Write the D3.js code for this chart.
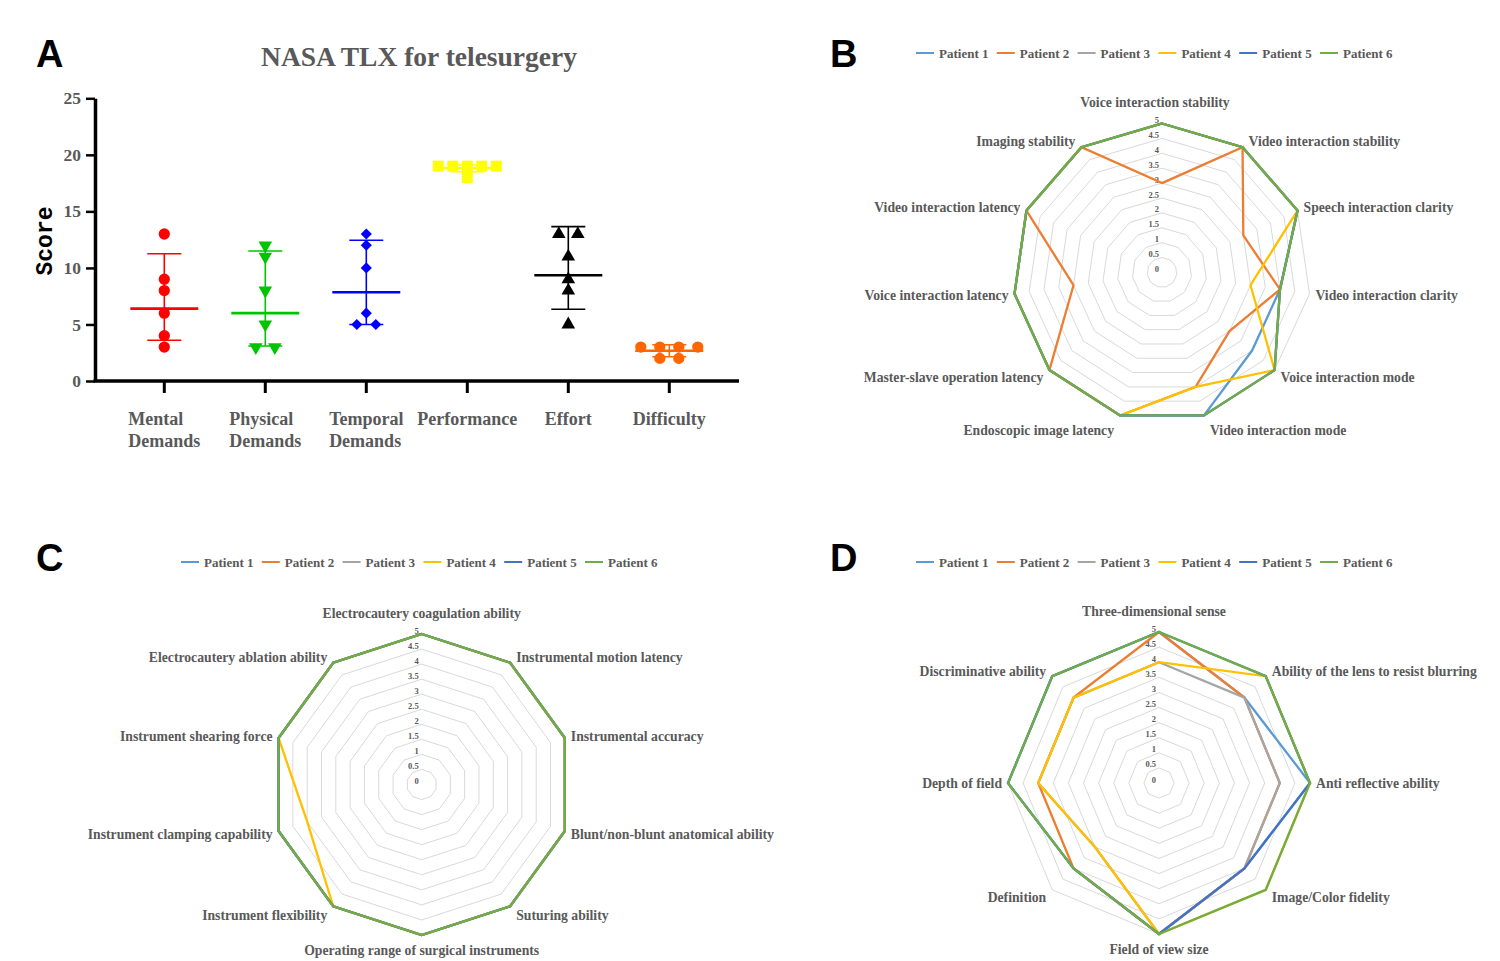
<!DOCTYPE html>
<html>
<head>
<meta charset="utf-8">
<script src="https://cdn.jsdelivr.net/npm/d3@7"></script>
<style>
  body { margin: 0; background: #fff; }
  text { font-family: "Liberation Serif", "Times New Roman", serif; font-weight: bold; }
</style>
</head>
<body>
<div id="chart"></div>
<script>
// ---- panel A data (NASA TLX) ----
const tlxCategories = ["Mental Demands", "Physical Demands", "Temporal Demands", "Performance", "Effort", "Difficulty"];
const tlxTickLabels = [["Mental", "Demands"], ["Physical", "Demands"], ["Temporal", "Demands"], ["Performance"], ["Effort"], ["Difficulty"]];
const tlxScores = [
	[13, 9, 8, 6, 4, 3],
	[12, 11, 8, 5, 3, 3],
	[13, 12, 10, 6, 5, 5],
	[19, 19, 19, 19, 19, 18],
	[13, 13, 11, 9, 8, 5],
	[3, 3, 3, 3, 2, 2]
];
const tlxCenter = [6.4, 6.0, 7.85, 18.83, 9.35, 2.67];
const tlxLow = [3.6, 3.1, 5.0, 18.5, 6.35, 2.15];
const tlxHigh = [11.25, 11.5, 12.45, 19.1, 13.65, 3.2];
const yTicks = [0, 5, 10, 15, 20, 25];

// ---- radar data ----
const patients = ["Patient 1", "Patient 2", "Patient 3", "Patient 4", "Patient 5", "Patient 6"];

const axesB = ["Voice interaction stability", "Video interaction stability", "Speech interaction clarity",
	"Video interaction clarity", "Voice interaction mode", "Video interaction mode", "Endoscopic image latency",
	"Master-slave operation latency", "Voice interaction latency", "Video interaction latency", "Imaging stability"];
const valuesB = [
	[5, 5, 5, 4, 4, 5, 5, 5, 5, 5, 5],
	[3, 5, 3, 4, 3, 4, 5, 5, 3, 5, 5],
	[5, 5, 5, 4, 5, 5, 5, 5, 5, 5, 5],
	[5, 5, 5, 3, 5, 4, 5, 5, 5, 5, 5],
	[5, 5, 5, 4, 5, 5, 5, 5, 5, 5, 5],
	[5, 5, 5, 4, 5, 5, 5, 5, 5, 5, 5]
];

const axesC = ["Electrocautery coagulation ability", "Instrumental motion latency", "Instrumental accuracy",
	"Blunt/non-blunt anatomical ability", "Suturing ability", "Operating range of surgical instruments",
	"Instrument flexibility", "Instrument clamping capability", "Instrument shearing force", "Electrocautery ablation ability"];
const valuesC = [
	[5, 5, 5, 5, 5, 5, 5, 5, 5, 5],
	[5, 5, 5, 5, 5, 5, 5, 5, 5, 5],
	[5, 5, 5, 5, 5, 5, 5, 5, 5, 5],
	[5, 5, 5, 5, 5, 5, 5, 4, 5, 5],
	[5, 5, 5, 5, 5, 5, 5, 5, 5, 5],
	[5, 5, 5, 5, 5, 5, 5, 5, 5, 5]
];

const axesD = ["Three-dimensional sense", "Ability of the lens to resist blurring", "Anti reflective ability",
	"Image/Color fidelity", "Field of view size", "Definition", "Depth of field", "Discriminative ability"];
const valuesD = [
	[5, 4, 5, 4, 5, 4, 5, 5],
	[5, 4, 4, 4, 5, 4, 4, 4],
	[4, 4, 4, 4, 5, 3, 4, 4],
	[4, 5, 5, 5, 5, 3, 4, 4],
	[5, 5, 5, 4, 5, 4, 5, 5],
	[5, 5, 5, 5, 5, 4, 5, 5]
];
const radarTicks = [0, 0.5, 1, 1.5, 2, 2.5, 3, 3.5, 4, 4.5, 5];

const patientColors = ["#5B9BD5", "#ED7D31", "#A5A5A5", "#FFC000", "#4472C4", "#70AD47"];
const tlxColors = ["#FF0000", "#00C400", "#0000FF", "#FFFF00", "#000000", "#FF6600"];
const GREY = "#595959";

const svg = d3.select("#chart").append("svg")
	.attr("width", 1500).attr("height", 961);
svg.append("rect").attr("width", 1500).attr("height", 961).attr("fill", "#fff");

// panel letters
[["A", 36, 67], ["B", 830, 67], ["C", 36, 571], ["D", 830, 571]].forEach(([t, x, y]) => {
	svg.append("text").attr("x", x).attr("y", y)
		.style("font-family", "'Liberation Sans', Arial, sans-serif")
		.style("font-size", "38px").attr("fill", "#000").text(t);
});

// ================= panel A =================
const x = d3.scalePoint().domain(tlxCategories).range([164.3, 669.3]);
const y = d3.scaleLinear().domain([0, 25]).range([381, 98.3]);
const gA = svg.append("g");

gA.append("text").attr("x", 419).attr("y", 66).attr("text-anchor", "middle")
	.style("font-size", "27.5px").attr("fill", GREY).text("NASA TLX for telesurgery");

const yAxis = gA.append("g").attr("transform", "translate(95,0)")
	.call(d3.axisLeft(y).tickValues(yTicks).tickSize(9).tickSizeOuter(0).tickPadding(5));
yAxis.select(".domain").attr("stroke-width", 3.5);
yAxis.selectAll(".tick line").attr("stroke-width", 2.5);
yAxis.selectAll(".tick text").style("font-size", "17.5px")
	.style("font-family", "'Liberation Serif', serif").attr("fill", GREY);

gA.append("line").attr("x1", 93.5).attr("x2", 739).attr("y1", 381).attr("y2", 381)
	.attr("stroke", "#000").attr("stroke-width", 3.5);
gA.selectAll(".xtick").data(tlxCategories).enter().append("line")
	.attr("x1", (d) => x(d)).attr("x2", (d) => x(d))
	.attr("y1", 381).attr("y2", 393).attr("stroke", "#000").attr("stroke-width", 3);

// two-line labels: left aligned block, block centred on the tick
tlxTickLabels.forEach((lines, i) => {
	const t = gA.append("text").attr("y", 425)
		.style("font-size", "18px").attr("fill", GREY);
	const spans = lines.map((l, j) => t.append("tspan").attr("dy", j ? 22 : 0).text(l));
	const w = d3.max(spans, (s) => s.node().getComputedTextLength());
	spans.forEach((s) => s.attr("x", x(tlxCategories[i]) - w / 2));
});

gA.append("text").attr("transform", "translate(52,241) rotate(-90)")
	.attr("text-anchor", "middle")
	.style("font-family", "'Liberation Mono', 'Courier New', monospace")
	.style("font-size", "23px").attr("fill", "#000").text("Score");

const symbols = [
	d3.symbol().type(d3.symbolCircle).size(100),
	d3.symbol().type(d3.symbolTriangle).size(80),
	d3.symbol().type(d3.symbolSquare).size(62),
	d3.symbol().type(d3.symbolSquare).size(121),
	d3.symbol().type(d3.symbolTriangle).size(80),
	d3.symbol().type(d3.symbolCircle).size(100)
];
const rotations = [0, 180, 45, 0, 0, 0];

tlxCategories.forEach((cat, i) => {
	const cx = x(cat);
	const col = tlxColors[i];
	const g = gA.append("g");
	// error bar
	g.append("line").attr("x1", cx).attr("x2", cx).attr("y1", y(tlxLow[i])).attr("y2", y(tlxHigh[i]))
		.attr("stroke", col).attr("stroke-width", 1.6);
	[tlxLow[i], tlxHigh[i]].forEach((v) => {
		g.append("line").attr("x1", cx - 17).attr("x2", cx + 17).attr("y1", y(v)).attr("y2", y(v))
			.attr("stroke", col).attr("stroke-width", 1.6);
	});
	g.append("line").attr("x1", cx - 34).attr("x2", cx + 34)
		.attr("y1", y(tlxCenter[i])).attr("y2", y(tlxCenter[i]))
		.attr("stroke", col).attr("stroke-width", 2.6);
	// spread equal values side by side
	const counts = d3.rollup(tlxScores[i], (v) => v.length, (d) => d);
	const seen = new Map();
	tlxScores[i].forEach((v) => {
		const n = counts.get(v);
		const k = seen.get(v) || 0;
		seen.set(v, k + 1);
		const step = n > 1 ? Math.min(19, 58 / (n - 1)) : 0;
		const px = cx + (k - (n - 1) / 2) * step;
		g.append("path").attr("d", symbols[i]())
			.attr("transform", `translate(${px},${y(v)}) rotate(${rotations[i]})`)
			.attr("fill", col);
	});
});

// ================= radar panels =================
function drawRadar(opt) {
	const { cx, cy, r, axes, values, legendX, legendY, topShift } = opt;
	const g = svg.append("g");
	const n = axes.length;
	const ang = (i) => (i * 2 * Math.PI) / n;
	const rs = d3.scaleLinear().domain([0, 5]).range([0, r]);
	const pt = (i, v) => [cx + rs(v) * Math.sin(ang(i)), cy - rs(v) * Math.cos(ang(i))];
	const line = d3.line();

	// legend
	patients.forEach((p, k) => {
		const lx = legendX + k * 80.8;
		g.append("line").attr("x1", lx).attr("x2", lx + 18).attr("y1", legendY).attr("y2", legendY)
			.attr("stroke", patientColors[k]).attr("stroke-width", 2);
		g.append("text").attr("x", lx + 23).attr("y", legendY + 4.5)
			.style("font-size", "13px").attr("fill", GREY).text(p);
	});

	// grid rings
	radarTicks.slice(1).forEach((t) => {
		g.append("path").attr("d", line(axes.map((a, i) => pt(i, t))) + "Z")
			.attr("fill", "none").attr("stroke", "#D9D9D9").attr("stroke-width", 1);
	});

	// tick labels
	radarTicks.forEach((t) => {
		g.append("text").attr("x", cx - 3).attr("y", cy - rs(t) - 0.5)
			.attr("text-anchor", "end").style("font-size", "8.5px").attr("fill", GREY).text(t);
	});

	// series
	values.forEach((vals, k) => {
		g.append("path").attr("d", line(vals.map((v, i) => pt(i, v))) + "Z")
			.attr("fill", "none").attr("stroke", patientColors[k]).attr("stroke-width", 2.3)
			.attr("stroke-linejoin", "miter");
	});

	// axis labels
	axes.forEach((a, i) => {
		const s = Math.sin(ang(i)), c = Math.cos(ang(i));
		const [vx, vy] = pt(i, 5);
		const anchor = s > 0.05 ? "start" : s < -0.05 ? "end" : "middle";
		const dx = s > 0.05 ? 6 : s < -0.05 ? -6 : (c > 0 ? topShift || 0 : 0);
		let dy;
		if (Math.abs(s) < 0.35) dy = c > 0 ? -c * 21 : -c * 15.5;
		else dy = c > 0 ? -c * 7 : -c * 11;
		g.append("text").attr("x", vx + dx).attr("y", vy + dy + 4.8)
			.attr("text-anchor", anchor).style("font-size", "13.7px").attr("fill", GREY).text(a);
	});
}

drawRadar({ cx: 1162, cy: 272.5, r: 149, axes: axesB, values: valuesB, legendX: 916, legendY: 53, topShift: -7 });
drawRadar({ cx: 421.7, cy: 784.5, r: 150.5, axes: axesC, values: valuesC, legendX: 181, legendY: 562, topShift: 0 });
drawRadar({ cx: 1159, cy: 783, r: 151, axes: axesD, values: valuesD, legendX: 916, legendY: 562, topShift: -5 });
</script>
</body>
</html>
